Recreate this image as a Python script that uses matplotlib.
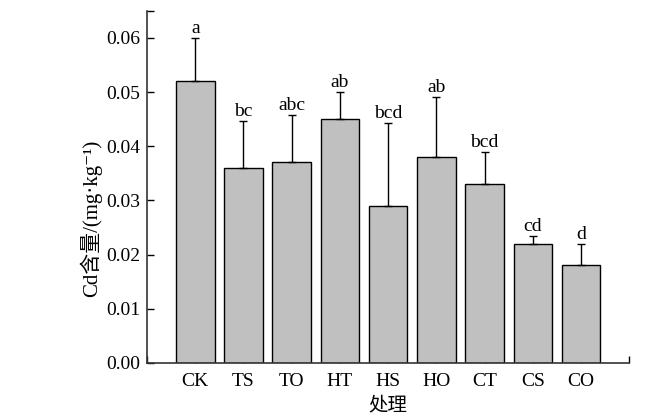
import matplotlib
matplotlib.use("Agg")
import matplotlib.pyplot as plt
import numpy as np

plt.rcParams['font.family'] = ['Liberation Serif', 'Noto Sans CJK SC', 'DejaVu Sans']

treatments = ['CK', 'TS', 'TO', 'HT', 'HS', 'HO', 'CT', 'CS', 'CO']
cd_mean = [0.052, 0.036, 0.037, 0.045, 0.029, 0.038, 0.033, 0.022, 0.018]
cd_err = [0.008, 0.0087, 0.0087, 0.005, 0.0152, 0.011, 0.0059, 0.0014, 0.004]
letters = ['a', 'bc', 'abc', 'ab', 'bcd', 'ab', 'bcd', 'cd', 'd']

fig = plt.figure(figsize=(6.48, 4.17), dpi=100)
ax = fig.add_axes([0.2269, 0.1295, 0.7442, 0.8448])

x = np.arange(len(treatments))
ax.bar(x, cd_mean, width=0.8, color='#c0c0c0', edgecolor='black', linewidth=1.0, zorder=2)
ax.errorbar(x, cd_mean, yerr=[np.zeros(len(x)), cd_err], fmt='none',
            ecolor='black', elinewidth=1.0, capsize=3, capthick=1.0, zorder=3)
for xi, m, e, lab in zip(x, cd_mean, cd_err, letters):
    ax.text(xi, m + e + 0.0002, lab, ha='center', va='bottom', fontsize=14)

ax.set_xlim(-1, 9)
ax.set_ylim(0, 0.065)
ax.set_xticks(list(range(-1, 10)))
ax.set_xticklabels([''] + treatments + [''])
yt = [0.0, 0.01, 0.02, 0.03, 0.04, 0.05, 0.06, 0.065]
ax.set_yticks(yt)
ax.set_yticklabels(['%.2f' % v for v in yt[:-1]] + [''])
ax.tick_params(direction='in', length=5, width=1.0, labelsize=14)
ax.tick_params(axis='x', pad=7)
ax.tick_params(axis='y', pad=5)

for s in ['top', 'right']:
    ax.spines[s].set_visible(False)
for s in ['left', 'bottom']:
    ax.spines[s].set_linewidth(1.2)
    ax.spines[s].set_color('#333333')

ax.set_ylabel('Cd含量/(mg·kg⁻¹)', fontsize=15)
ax.yaxis.set_label_coords(-0.094, 0.41)
ax.set_xlabel('处理', fontsize=14, labelpad=5)

fig.savefig('out.png', dpi=100)
